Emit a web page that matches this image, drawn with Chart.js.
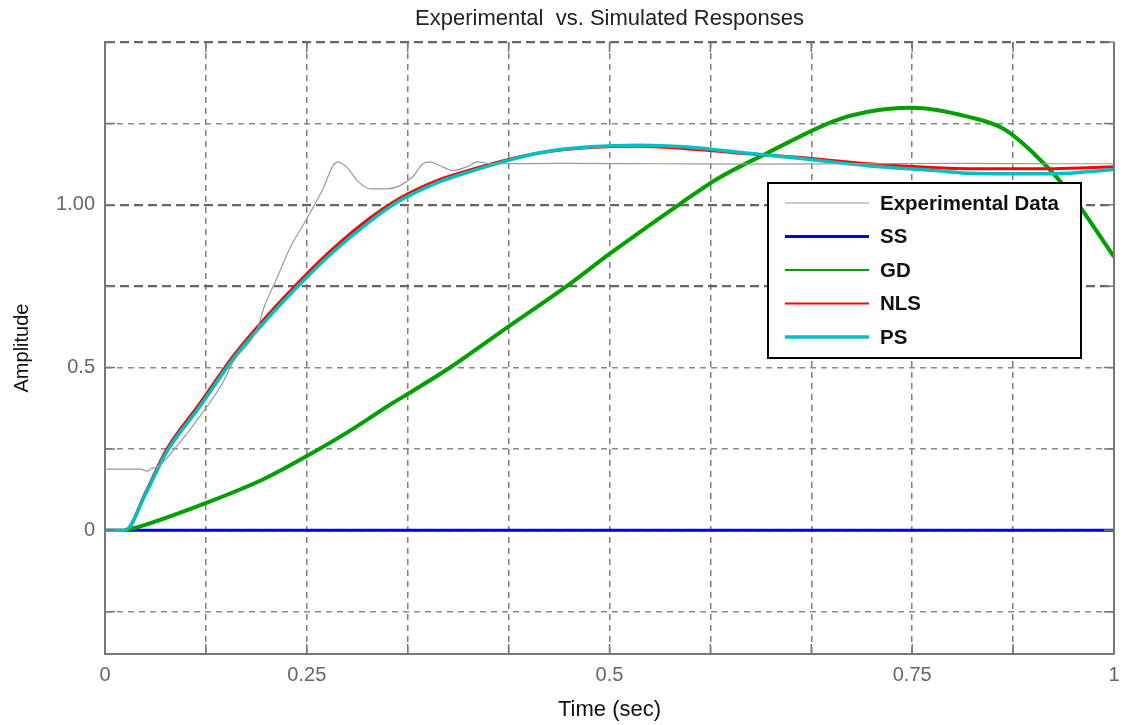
<!DOCTYPE html>
<html><head><meta charset="utf-8">
<script src="https://cdn.jsdelivr.net/npm/chart.js@4"></script>
<style>html,body{margin:0;padding:0;background:#fff;}#wrap{width:1124px;height:725px;}</style>
</head><body><div id="wrap"><canvas id="c" width="1124" height="725"></canvas></div>
<script>
// ---- data ----
const titleText = 'Experimental  vs. Simulated Responses';
const xTitle = 'Time (sec)';
const yTitle = 'Amplitude';
const seriesNames = ['Experimental Data', 'SS', 'GD', 'NLS', 'PS'];

const xTickValues = [0, 0.1, 0.2, 0.3, 0.4, 0.5, 0.6, 0.7, 0.8, 0.9, 1.0];
const xTickLabels = ['0', '', '0.25', '', '', '0.5', '', '', '0.75', '', '1'];
const yTickValues = [-0.25, 0, 0.25, 0.5, 0.75, 1.0, 1.25, 1.5];
const yTickLabels = ['', '0', '', '0.5', '', '1.00', '', ''];
const yStrongGrid = [0.75, 1.0, 1.5];

const expT = [0, 0.035, 0.042, 0.046, 0.052, 0.071, 0.094, 0.117, 0.127, 0.151, 0.157, 0.170, 0.183, 0.200, 0.216, 0.226, 0.231, 0.241, 0.250, 0.263, 0.279, 0.292, 0.305, 0.315, 0.322, 0.332, 0.345, 0.359, 0.369, 0.382, 0.45, 0.55, 0.65, 0.75, 0.85, 0.95, 1.0];
const expY = [0.188, 0.188, 0.182, 0.19, 0.194, 0.258, 0.35, 0.455, 0.517, 0.618, 0.68, 0.772, 0.865, 0.957, 1.049, 1.12, 1.132, 1.111, 1.074, 1.049, 1.049, 1.058, 1.086, 1.126, 1.132, 1.12, 1.105, 1.117, 1.132, 1.126, 1.127, 1.126, 1.125, 1.126, 1.127, 1.126, 1.126];

const ssT = [0.020, 1.0];
const ssY = [0, 0];

const gdT = [0.020, 0.035, 0.101, 0.157, 0.200, 0.245, 0.282, 0.305, 0.342, 0.398, 0.458, 0.500, 0.570, 0.607, 0.657, 0.723, 0.756, 0.800, 0.856, 0.890, 0.923, 0.956, 1.0];
const gdY = [0, 0.012, 0.085, 0.157, 0.228, 0.31, 0.385, 0.428, 0.5, 0.622, 0.751, 0.849, 1.003, 1.08, 1.16, 1.258, 1.286, 1.298, 1.27, 1.234, 1.15, 1.037, 0.84];

const nlsT = [0, 0.020, 0.040, 0.061, 0.094, 0.127, 0.161, 0.196, 0.226, 0.263, 0.292, 0.332, 0.365, 0.398, 0.431, 0.481, 0.530, 0.574, 0.623, 0.690, 0.756, 0.824, 0.856, 0.940, 1.0];
const nlsY = [0, 0, 0.115, 0.248, 0.39, 0.535, 0.66, 0.775, 0.865, 0.96, 1.02, 1.078, 1.11, 1.138, 1.16, 1.176, 1.18, 1.173, 1.16, 1.145, 1.126, 1.114, 1.111, 1.111, 1.117];

const psT = [0, 0.020, 0.040, 0.061, 0.094, 0.127, 0.161, 0.196, 0.226, 0.263, 0.292, 0.332, 0.365, 0.398, 0.431, 0.481, 0.530, 0.574, 0.623, 0.690, 0.756, 0.824, 0.856, 0.940, 1.0];
const psY = [0, 0, 0.11, 0.24, 0.38, 0.526, 0.65, 0.765, 0.855, 0.95, 1.012, 1.071, 1.105, 1.135, 1.16, 1.178, 1.183, 1.178, 1.163, 1.142, 1.12, 1.105, 1.097, 1.095, 1.108];

// ---- build ----
const FONT = '"Liberation Sans", Arial, sans-serif';
const pts = (t, y) => t.map((v, i) => ({x: v, y: y[i]}));

function ds(label, t, y, color, width, legendWidth, order) {
  return {label, data: pts(t, y), borderColor: color, backgroundColor: color,
    borderWidth: width, legendWidth, order, pointRadius: 0, fill: false,
    cubicInterpolationMode: 'monotone', borderJoinStyle: 'round'};
}

const datasets = [
  ds(seriesNames[0], expT, expY, '#9a9a9a', 1.2, 1.2, 0),
  ds(seriesNames[1], ssT, ssY, '#0000ee', 3, 3, 4),
  ds(seriesNames[2], gdT, gdY, '#00a000', 4, 2, 3),
  ds(seriesNames[3], nlsT, nlsY, '#ff0000', 3, 2, 2),
  ds(seriesNames[4], psT, psY, '#00c0c0', 3.5, 3.5, 1)
];

const framePlugin = {
  id: 'frame',
  afterDatasetsDraw(chart) {
    const {ctx, chartArea: ca, scales} = chart;
    ctx.save();
    ctx.strokeStyle = '#777';
    ctx.lineWidth = 2;
    ctx.beginPath();
    ctx.moveTo(ca.right, ca.top); ctx.lineTo(ca.right, ca.bottom);
    ctx.stroke();
    ctx.lineWidth = 1.5;
    ctx.beginPath();
    yTickValues.forEach(v => {
      const p = scales.y.getPixelForValue(v);
      ctx.moveTo(ca.left, p); ctx.lineTo(ca.left + 10, p);
      ctx.moveTo(ca.right - 10, p); ctx.lineTo(ca.right, p);
    });
    xTickValues.forEach(v => {
      const p = scales.x.getPixelForValue(v);
      ctx.moveTo(p, ca.bottom); ctx.lineTo(p, ca.bottom - 10);
      ctx.moveTo(p, ca.top); ctx.lineTo(p, ca.top + 10);
    });
    ctx.stroke();
    // title centred over the plot area
    ctx.fillStyle = '#222';
    ctx.font = '22px ' + FONT;
    ctx.textAlign = 'center';
    ctx.textBaseline = 'middle';
    ctx.fillText(titleText, (ca.left + ca.right) / 2, 19);
    ctx.restore();
  }
};

const legendPlugin = {
  id: 'boxLegend',
  afterDatasetsDraw(chart) {
    const {ctx, chartArea: ca} = chart;
    const x0 = ca.right - 346, y0 = ca.top + 141, w = 313, h = 175;
    ctx.save();
    ctx.fillStyle = '#fff';
    ctx.fillRect(x0, y0, w, h);
    ctx.lineWidth = 2;
    ctx.strokeStyle = '#000';
    ctx.strokeRect(x0, y0, w, h);
    chart.data.datasets.forEach((d, i) => {
      const y = y0 + 20 + i * 33.5;
      ctx.beginPath();
      ctx.lineWidth = d.legendWidth;
      ctx.strokeStyle = d.borderColor;
      ctx.moveTo(x0 + 17, y); ctx.lineTo(x0 + 101, y);
      ctx.stroke();
      ctx.fillStyle = '#111';
      ctx.font = 'bold 20.5px ' + FONT;
      ctx.textBaseline = 'middle';
      ctx.textAlign = 'left';
      ctx.fillText(d.label, x0 + 112, y + 1);
    });
    ctx.restore();
  }
};

const isStrong = c => c.tick && yStrongGrid.some(v => Math.abs(v - c.tick.value) < 1e-9);

new Chart(document.getElementById('c'), {
  type: 'line',
  data: {datasets},
  plugins: [framePlugin, legendPlugin],
  options: {
    responsive: false,
    animation: false,
    devicePixelRatio: 1,
    layout: {padding: {left: 0, right: 10, top: 42, bottom: 0}},
    plugins: {
      legend: {display: false},
      tooltip: {enabled: false},
      title: {display: false}
    },
    scales: {
      x: {
        type: 'linear', min: 0, max: 1,
        afterBuildTicks: s => { s.ticks = xTickValues.map(v => ({value: v})); },
        afterFit: s => { s.height = 71; s.paddingLeft = 0; s.paddingRight = 0; },
        ticks: {callback: (v, i) => xTickLabels[i], autoSkip: false, maxRotation: 0,
          font: {family: FONT, size: 20}, color: '#666', padding: 9},
        grid: {color: '#808080', lineWidth: 1.5, drawTicks: false},
        border: {display: true, color: '#777', width: 2, dash: [6, 5]},
        title: {display: true, text: xTitle, color: '#111',
          font: {family: FONT, size: 22, lineHeight: 1.2}, padding: {top: 0, bottom: 2}}
      },
      y: {
        type: 'linear', min: -0.38, max: 1.5,
        afterBuildTicks: s => { s.ticks = yTickValues.map(v => ({value: v})); },
        afterFit: s => { s.width = 105; s.paddingTop = 0; s.paddingBottom = 0; },
        ticks: {callback: (v, i) => yTickLabels[i], autoSkip: false,
          font: {family: FONT, size: 20}, color: '#666', padding: 10},
        grid: {drawTicks: false,
          color: c => isStrong(c) ? '#666' : '#8a8a8a',
          lineWidth: c => isStrong(c) ? 2.2 : 1.5},
        border: {display: true, color: '#777', width: 2,
          dash: c => isStrong(c) ? [9, 5] : [6, 5]},
        title: {display: true, text: yTitle, color: '#111',
          font: {family: FONT, size: 20, lineHeight: 1.2}, padding: {top: 10, bottom: 0}}
      }
    }
  }
});
</script>
</body></html>
